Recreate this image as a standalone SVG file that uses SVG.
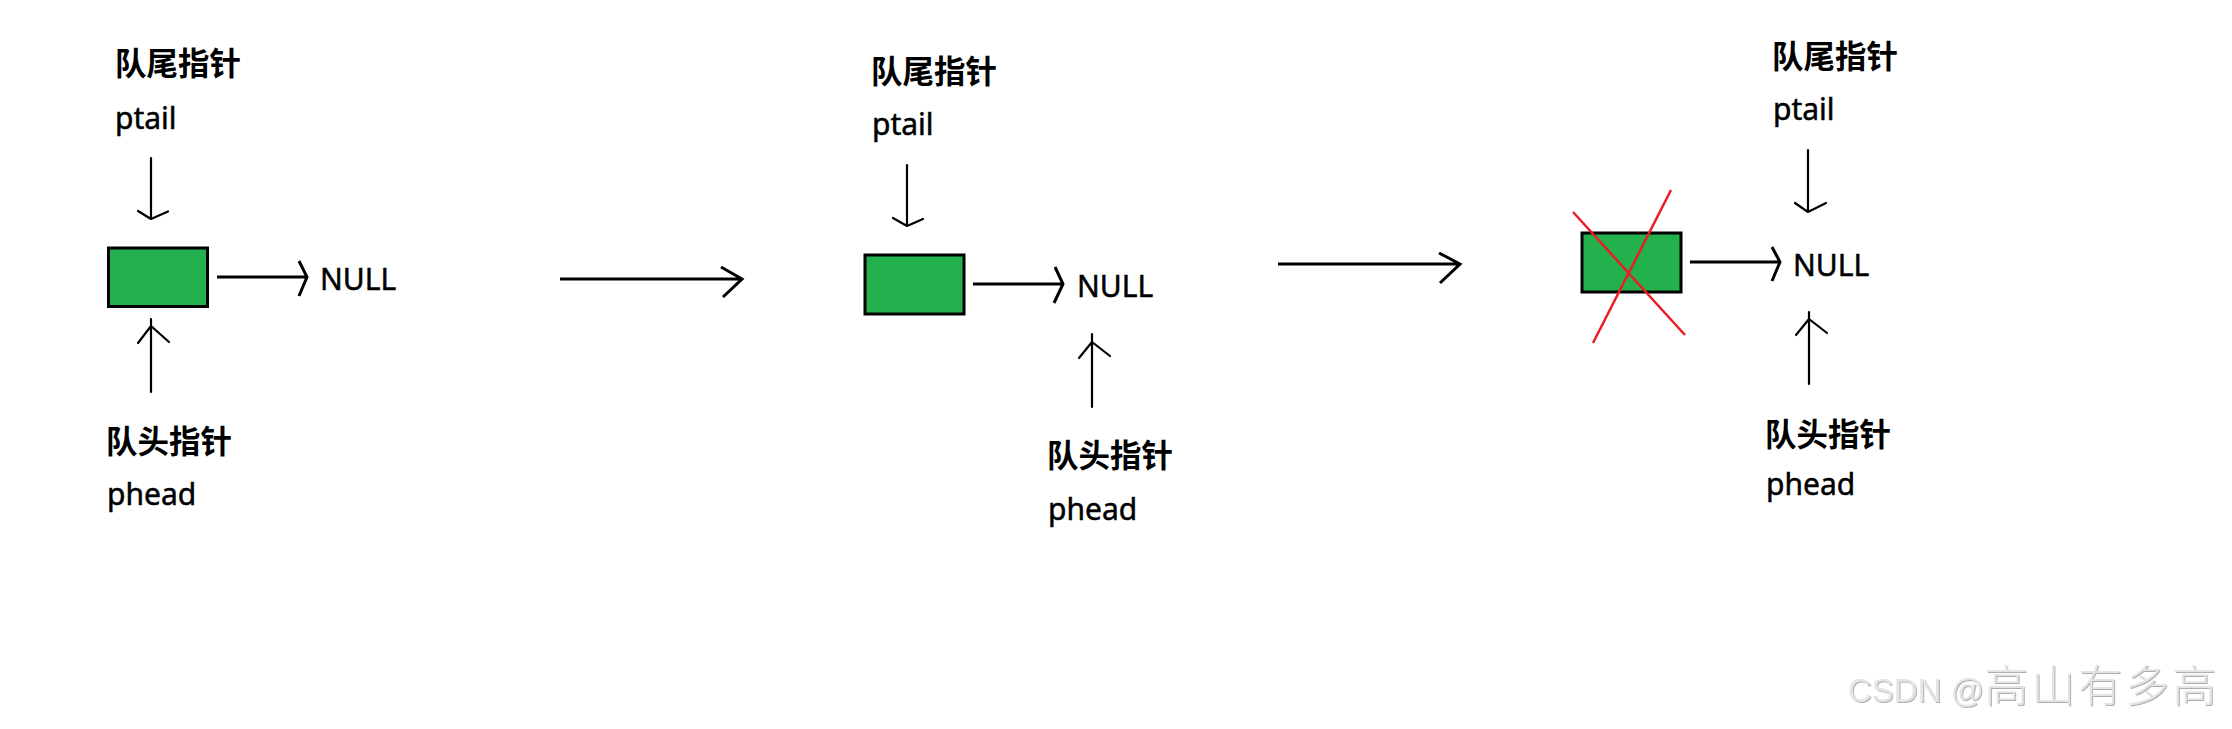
<svg xmlns="http://www.w3.org/2000/svg" width="2232" height="729" viewBox="0 0 2232 729">
<style>
.bg{fill:#ffffff}
.box{fill:#22b14c;stroke:#000000;stroke-width:3}
.cn{font-family:"Noto Sans CJK SC","Noto Sans",sans-serif;font-weight:bold;font-size:31.5px;fill:#000000}
.lt{font-family:"Noto Sans","Open Sans","Liberation Sans",sans-serif;font-size:30px;font-weight:400;fill:#000000;stroke:#000000;stroke-width:0.5}
.ptr{fill:none;stroke:#000000;stroke-width:2.2;stroke-linecap:round;stroke-linejoin:round}
.nxt{fill:none;stroke:#000000;stroke-width:3;stroke-linecap:butt;stroke-linejoin:miter}
.big{fill:none;stroke:#000000;stroke-width:3;stroke-linejoin:miter}
.cross{fill:none;stroke:#ed1c24;stroke-width:2.5}
.wm{font-family:"Liberation Sans","Noto Sans CJK SC",sans-serif;font-size:33px;fill:#e4e4e4}
.wmc{font-family:"Noto Sans CJK SC",sans-serif;font-size:44px;font-weight:300;letter-spacing:3px}
</style>
<defs>
<filter id="emb" x="-5%" y="-20%" width="110%" height="140%">
<feDropShadow dx="1" dy="1" stdDeviation="0.6" flood-color="#9a9a9a" flood-opacity="0.8"/>
</filter>
</defs>
<rect class="bg" x="0" y="0" width="2232" height="729"/>

<g id="panel1-node">
<rect class="box" x="108.5" y="248" width="99" height="58.5"/>
</g>
<g id="panel1-null"><text class="lt" x="320" y="290">NULL</text></g>
<g id="panel1-tail">
<text class="cn" x="115" y="75">队尾指针</text>
<text class="lt" x="115" y="129">ptail</text>
</g>
<g id="panel1-head">
<text class="cn" x="106" y="453">队头指针</text>
<text class="lt" x="107" y="505">phead</text>
</g>

<g id="panel2-node">
<rect class="box" x="865" y="255" width="99" height="59"/>
</g>
<g id="panel2-null"><text class="lt" x="1077" y="297">NULL</text></g>
<g id="panel2-tail">
<text class="cn" x="871" y="83">队尾指针</text>
<text class="lt" x="872" y="135">ptail</text>
</g>
<g id="panel2-head">
<text class="cn" x="1047" y="467">队头指针</text>
<text class="lt" x="1048" y="520">phead</text>
</g>

<g id="panel3-node">
<rect class="box" x="1582" y="233" width="99" height="59"/>
<path class="cross" d="M1573,212 L1685,335 M1671,190 L1593,343"/>
</g>
<g id="panel3-null"><text class="lt" x="1793" y="276">NULL</text></g>
<g id="panel3-tail">
<text class="cn" x="1772" y="68">队尾指针</text>
<text class="lt" x="1773" y="120">ptail</text>
</g>
<g id="panel3-head">
<text class="cn" x="1765" y="446">队头指针</text>
<text class="lt" x="1766" y="495">phead</text>
</g>

<g id="connectors">
<path class="ptr" d="M151,158 L151,219 M138,211 L151,219 L168,211.5"/>
<path class="nxt" d="M217,277 L307,277 M299,261 L307,277 L299,296"/>
<path class="ptr" d="M151,392 L151,319 M138,343 L151,326 L169,342"/>

<path class="big" d="M560,279 L742,279 M721,267 L742,279 L723,297"/>

<path class="ptr" d="M907,165 L907,226 M893,218 L907,226 L923,219"/>
<path class="nxt" d="M973,284 L1063,284 M1055,267 L1063,284 L1054,303"/>
<path class="ptr" d="M1092,407 L1092,334 M1079,358 L1092,342 L1110,356"/>

<path class="big" d="M1278,264 L1460,264 M1439,253 L1460,264 L1440,283"/>

<path class="ptr" d="M1808,150 L1808,212 M1795,203 L1808,212 L1826,203"/>
<path class="nxt" d="M1690,262 L1780,262 M1772,247 L1780,262 L1772,281"/>
<path class="ptr" d="M1809,384 L1809,312 M1796,335 L1809,319 L1827,333"/>
</g>

<g id="watermark">
<text class="wm" x="1848" y="702" filter="url(#emb)">CSDN @<tspan class="wmc">高山有多高</tspan></text>
</g>
</svg>
